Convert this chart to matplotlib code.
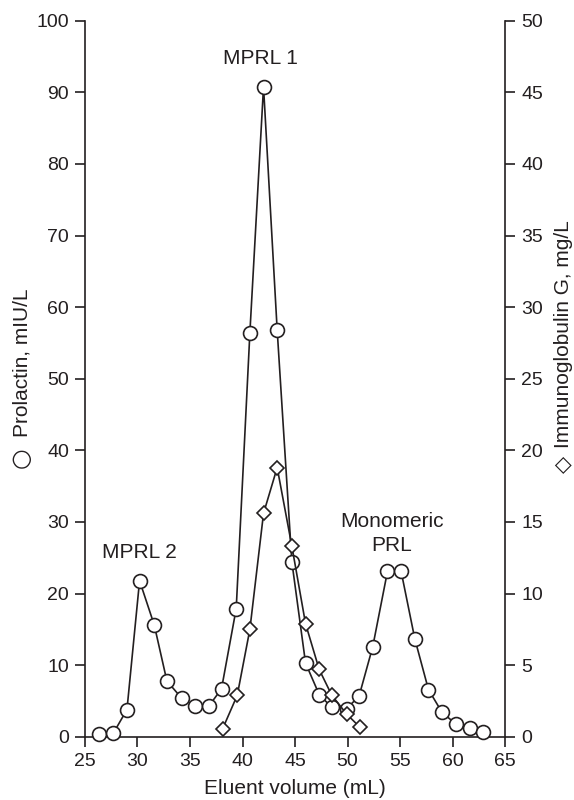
import matplotlib
matplotlib.use("Agg")
import matplotlib.pyplot as plt

plt.rcParams['font.family'] = ['Liberation Sans', 'DejaVu Sans']

# Prolactin (left axis, mIU/L)
prl_x = [26.3, 27.7, 29.0, 30.2, 31.6, 32.8, 34.2, 35.5, 36.8, 38.0, 39.4, 40.7,
         42.0, 43.3, 44.7, 46.0, 47.3, 48.5, 49.9, 51.1, 52.4, 53.8, 55.1, 56.4,
         57.7, 59.0, 60.3, 61.7, 62.9]
prl_y = [0.4, 0.5, 3.8, 21.8, 15.6, 7.8, 5.4, 4.3, 4.3, 6.7, 17.9, 56.4,
         90.8, 56.8, 24.4, 10.3, 5.9, 4.1, 3.9, 5.7, 12.6, 23.1, 23.1, 13.7,
         6.6, 3.4, 1.8, 1.2, 0.7]

# Immunoglobulin G (right axis, mg/L)
igg_x = [38.1, 39.5, 40.7, 42.0, 43.3, 44.7, 46.0, 47.3, 48.5, 49.9, 51.2]
igg_y = [0.55, 2.9, 7.5, 15.6, 18.8, 13.3, 7.9, 4.7, 2.9, 1.6, 0.65]

x_ticks = [25, 30, 35, 40, 45, 50, 55, 60, 65]
left_ticks = [0, 10, 20, 30, 40, 50, 60, 70, 80, 90, 100]
right_ticks = [0, 5, 10, 15, 20, 25, 30, 35, 40, 45, 50]

annotations = [("MPRL 1", 41.7, 94.8), ("MPRL 2", 30.2, 25.8),
               ("Monomeric\nPRL", 54.2, 28.4)]

ink = '#231f20'
fs = 15
tfs = 14
fig = plt.figure(figsize=(5.74, 8.0), dpi=100)
ax = fig.add_axes([0.148, 0.079, 0.732, 0.895])
ax2 = ax.twinx()

ax.plot(prl_x, prl_y, color=ink, lw=1.2, marker='o', ms=10, mfc='white',
        mec=ink, mew=1.2, zorder=3, clip_on=False)
ax2.plot(igg_x, igg_y, color=ink, lw=1.2, marker='D', ms=7.5, mfc='white',
         mec=ink, mew=1.2, zorder=3, clip_on=False)

ax.set_xlim(25, 65)
ax.set_ylim(0, 100)
ax2.set_ylim(0, 50)
ax.set_xticks(x_ticks)
ax.set_yticks(left_ticks)
ax2.set_yticks(right_ticks)

for a in (ax, ax2):
    a.spines['top'].set_visible(False)
    for s in a.spines.values():
        s.set_color(ink)
        s.set_linewidth(1.2)
    a.tick_params(colors=ink, labelsize=tfs, width=1.2, length=7, pad=4.5,
                  direction='out')
ax.spines['right'].set_visible(False)
ax2.spines['left'].set_visible(False)
ax2.spines['bottom'].set_visible(False)

ax.set_xlabel("Eluent volume (mL)", fontsize=fs, color=ink, labelpad=7)

# axis titles with their series symbols
ax.text(-0.15, 0.522, "Prolactin, mIU/L", transform=ax.transAxes, rotation=90,
        ha='center', va='center', fontsize=fs, color=ink)
ax.text(-0.152, 0.39, "\u25cb", transform=ax.transAxes, rotation=90,
        ha='center', va='center', fontsize=17, color=ink, family='DejaVu Sans')
ax.text(1.138, 0.562, "Immunoglobulin G, mg/L", transform=ax.transAxes,
        rotation=90, ha='center', va='center', fontsize=fs, color=ink)
ax.text(1.138, 0.38, "\u25c7", transform=ax.transAxes, rotation=90,
        ha='center', va='center', fontsize=16, color=ink, family='DejaVu Sans')

for txt, x, y in annotations:
    ax.text(x, y, txt, ha='center', va='center', fontsize=fs, color=ink,
            linespacing=1.3)

fig.savefig("out.png", dpi=100)
